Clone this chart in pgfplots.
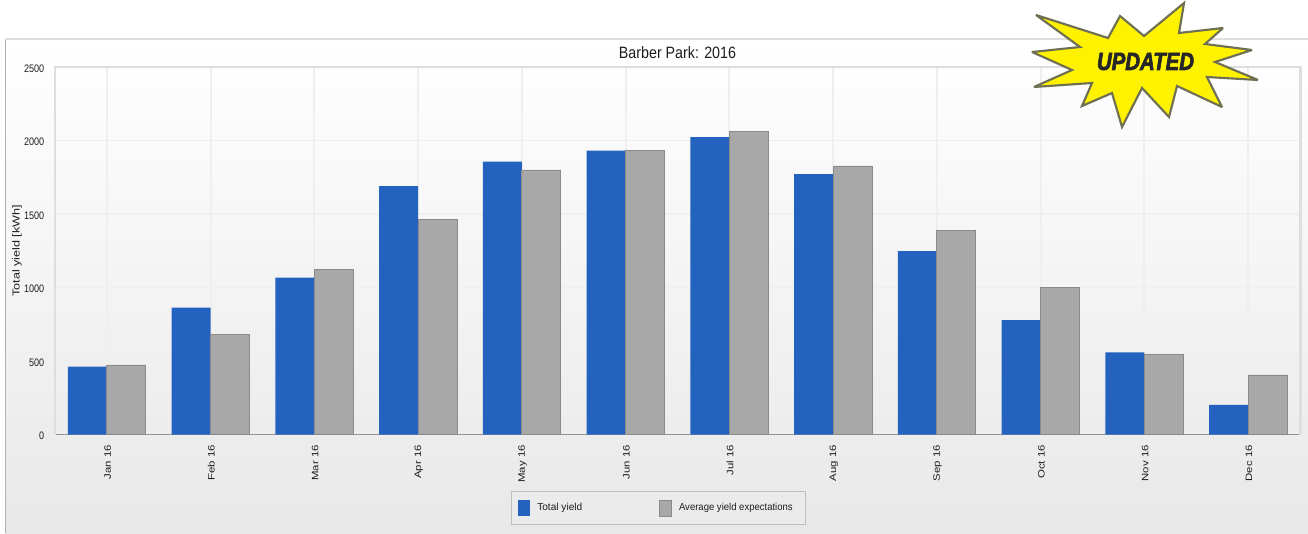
\documentclass[border=0pt]{standalone}
\usepackage{fontspec}
\setmainfont{Liberation Sans}
\newfontfamily\badgefont{Liberation Sans}[BoldItalicFeatures={FakeBold=3}]
\usepackage{pgfplots}
\pgfplotsset{compat=1.18}
\definecolor{yieldblue}{HTML}{2462C0}
\definecolor{yieldgrey}{HTML}{A8A8A8}
\definecolor{yieldedge}{HTML}{8A8A8A}
\definecolor{framegrey}{HTML}{DEDEDE}
\definecolor{gridgrey}{HTML}{EFEFEF}
\definecolor{inkgrey}{HTML}{1E1E1E}
\definecolor{badgeedge}{HTML}{6F6F52}
\newcommand\mon[1]{\scalebox{1.22}[1]{#1}}
\begin{document}
\begin{tikzpicture}[x=0.75pt,y=0.75pt]
  \useasboundingbox (0,0) rectangle (1308,533);
  % chart panel with its vertical gradient
  \shade[top color=white,bottom color=black!9] (5,0) rectangle (1308,494);
  \draw[black!30,line width=0.7pt] (5,0) -- (5,494);
  \draw[framegrey,line width=1.1pt] (5,494) -- (1308,494);

  \begin{axis}[
    at={(55pt*0.75,98.5pt*0.75)},anchor=south west,
    scale only axis,
    width=933.75pt,height=275.6pt,
    xmin=-0.5,xmax=11.5,ymin=0,ymax=2500,
    ybar=0pt,bar width=29.25pt,
    xtick={0,...,11},
    xticklabels={\mon{Jan 16},\mon{Feb 16},\mon{Mar 16},\mon{Apr 16},\mon{May 16},\mon{Jun 16},\mon{Jul 16},\mon{Aug 16},\mon{Sep 16},\mon{Oct 16},\mon{Nov 16},\mon{Dec 16}},
    xticklabel style={rotate=90,anchor=east,font=\fontsize{7}{8}\selectfont,text=inkgrey,xshift=-4.5pt,yshift=-0.5pt},
    ytick={0,500,1000,1500,2000,2500},
    yticklabel={\scalebox{1}[1.2]{\pgfmathprintnumber[1000 sep={},assume math mode=true]{\tick}}},
    yticklabel style={font=\fontsize{6.8}{8}\selectfont,text=inkgrey,xshift=-4.5pt,yshift=-1.1pt},
    scaled ticks=false,
    major tick length=0pt,
    grid=major,
    major grid style={gridgrey,line width=1.4pt},
    axis line style={framegrey,line width=1.1pt},
    axis x line*=bottom,
    x axis line style={black!42,line width=0.9pt,-},
    y axis line style={-},
    title={\scalebox{1}[1.15]{Barber Park: 2016}},
    title style={font=\fontsize{10.7}{12}\selectfont,text=inkgrey,yshift=-3pt,at={(0.5,1)}},
    ylabel={\scalebox{1.24}[1]{Total yield [kWh]}},
    ylabel style={font=\fontsize{7.6}{9}\selectfont,text=inkgrey,at={(axis description cs:-0.0305,0.5)},anchor=center},
    legend columns=2,
    legend style={
      at={(0.3663,-0.1537)},anchor=north west,
      draw=black!25,line width=0.8pt,fill=black!8,
      font=\fontsize{7.6}{9}\selectfont,text=inkgrey,
      inner xsep=4.5pt,inner ysep=6pt,
    },
    legend image code/.code={\fill[#1] (0pt,-6pt) rectangle (9pt,6pt);},
  ]
    \addplot[fill=yieldblue,draw=none] coordinates {
      (0,461) (1,863) (2,1067) (3,1690) (4,1856) (5,1931)
      (6,2024) (7,1772) (8,1248) (9,779) (10,559) (11,201)};
    \addplot[fill=yieldgrey,draw=yieldedge,line width=0.6pt] coordinates {
      (0,473) (1,681) (2,1124) (3,1461) (4,1800) (5,1931)
      (6,2060) (7,1827) (8,1387) (9,999) (10,543) (11,405)};
    \addlegendentry{\hspace{3.75pt}\makebox[89pt][l]{Total yield}}
    \addlegendentry{\hspace{3.75pt}\makebox[88pt][l]{\scalebox{0.94}[1]{Average yield expectations}}}
  \end{axis}

  % side and top edges of the plot area
  \draw[framegrey,line width=1.1pt] (55,99) -- (55,466) -- (1301,466) -- (1301,99);

  % starburst badge
  \draw[fill=yellow,draw=badgeedge,line join=miter,miter limit=3,line width=1.6pt]
    (1036,518) -- (1108,495) -- (1120,517) -- (1144,497) -- (1184,530) -- (1179,500)
    -- (1223,505) -- (1205,489) -- (1252,483) -- (1215,471) -- (1258,453) -- (1207,456)
    -- (1222,426) -- (1177,447) -- (1169,416) -- (1142,445) -- (1122,406) -- (1112,440)
    -- (1082,427) -- (1092,450) -- (1034,446) -- (1072,463) -- (1032,481) -- (1080,486) -- cycle;
  \node[inner sep=0pt,text=black!85] at (1145.5,471.5)
    {\resizebox{72.75pt}{12.75pt}{\badgefont\bfseries\itshape UPDATED}};
\end{tikzpicture}
\end{document}
